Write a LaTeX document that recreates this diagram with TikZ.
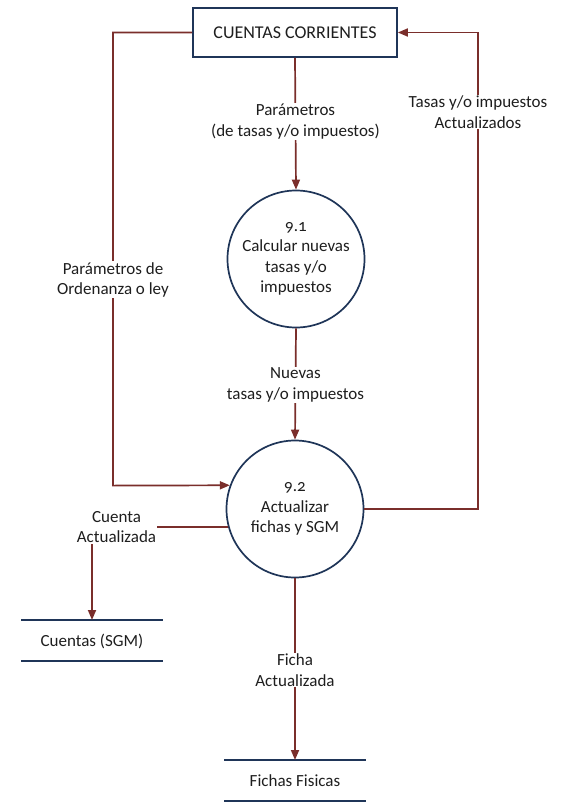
\documentclass[tikz,border=0pt]{standalone}
\usepackage{fontspec}
\setmainfont{Carlito}[Numbers=OldStyle]
\usetikzlibrary{arrows.meta}
\definecolor{flow}{HTML}{7A2E2B}
\definecolor{edge}{HTML}{1F3558}
\definecolor{ink}{HTML}{1E1E1E}
\begin{document}
\begin{tikzpicture}[x=1pt,y=-1pt,
  font=\fontsize{17}{20.5}\selectfont, text=ink,
  flowline/.style={draw=flow, line width=1.7pt},
  arr/.style={-{Triangle[length=10pt,width=8pt]}},
  process/.style={circle, draw=edge, line width=1.7pt, minimum size=137pt,
                  align=center, inner sep=0pt, fill=white},
  entity/.style={draw=edge, line width=1.7pt, minimum width=204pt,
                 minimum height=49pt, fill=white},
  storeline/.style={draw=edge, line width=1.7pt},
  lbl/.style={fill=white, align=center, inner sep=1pt},
]
\useasboundingbox (0,0) rectangle (569,803);

% external entity and processes
\node[entity] (cc) at (295,32.5) {\fontsize{18}{20.5}\selectfont CUENTAS CORRIENTES};
\node[process] (p1) at (296,259) {9.1\\Calcular nuevas\\tasas y/o\\impuestos};
\node[process] (p2) at (295,509) {9.2\\Actualizar\\fichas y SGM};

% data stores
\coordinate (s1a) at (21,620);  \coordinate (s1b) at (163,620);
\coordinate (s1c) at (21,661);  \coordinate (s1d) at (163,661);
\coordinate (s1in) at (92,620);
\node (s1) at (92,641) {Cuentas (SGM)};
\draw[storeline] (s1a) -- (s1b);
\draw[storeline] (s1c) -- (s1d);

\coordinate (s2a) at (224,760);  \coordinate (s2b) at (366,760);
\coordinate (s2c) at (224,801);  \coordinate (s2d) at (366,801);
\coordinate (s2in) at (295,760);
\node (s2) at (295,781) {Fichas Fisicas};
\draw[storeline] (s2a) -- (s2b);
\draw[storeline] (s2c) -- (s2d);

% flow corners
\coordinate (lt) at (113,32.5);
\coordinate (lb) at (113,485.6);
\coordinate (rb) at (478,509);
\coordinate (rt) at (478,32.5);
\coordinate (ca) at (92,527);

% data flows
\draw[flowline,arr] (cc.south) -- node[lbl,pos=0.485]{Parámetros\\(de tasas y/o impuestos)} (p1.north);
\draw[flowline,arr] (p1.south) -- node[lbl,pos=0.51]{Nuevas\\tasas y/o impuestos} (p2.north);
\draw[flowline,arr] (cc.west) -- (lt) -- node[lbl,pos=0.546]{Parámetros de\\Ordenanza o ley} (lb) -- (p2.160);
\draw[flowline,arr] (p2.east) -- (rb) -- node[lbl,pos=0.833]{Tasas y/o impuestos\\Actualizados} (rt) -- (cc.east);
\draw[flowline,arr] (p2.195) -- node[lbl,pos=0.82]{Cuenta\\Actualizada} (ca) -- (s1in);
\draw[flowline,arr] (p2.south) -- node[lbl,pos=0.505]{Ficha\\Actualizada} (s2in);
\end{tikzpicture}
\end{document}
